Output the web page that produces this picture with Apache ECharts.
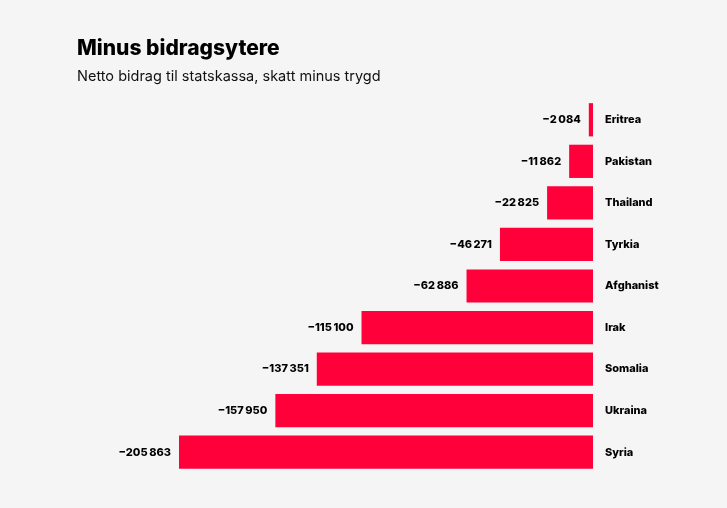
<!DOCTYPE html>
<html>
  <head>
    <meta charset="utf-8" />
    <title>Minus bidragsytere</title>
    <script src="https://cdn.jsdelivr.net/npm/echarts@6/dist/echarts.min.js"></script>
    <style>
      html, body { margin: 0; padding: 0; background: #f5f5f5; }
      #chart { width: 727px; height: 508px; }
    </style>
  </head>
  <body>
    <div id="chart"></div>
    <script type="text/javascript">
      // data
      var countries = ['Eritrea', 'Pakistan', 'Thailand', 'Tyrkia', 'Afghanist', 'Irak', 'Somalia', 'Ukraina', 'Syria'];
      var netto = [-2084, -11862, -22825, -46271, -62886, -115100, -137351, -157950, -205863];

      // −2 084 style: real minus sign, space as thousands separator
      function fmt(v) {
        var s = String(Math.abs(v)).replace(/\B(?=(\d{3})+(?!\d))/g, '\u2009');
        return (v < 0 ? '\u2212' : '') + s;
      }

      var chart = echarts.init(document.getElementById('chart'));
      chart.setOption({
        backgroundColor: '#f5f5f5',
        animation: false,
        title: {
          text: 'Minus bidragsytere',
          subtext: 'Netto bidrag til statskassa, skatt minus trygd',
          left: 72,
          top: 33,
          itemGap: 10,
          textStyle: { fontFamily: 'Inter', fontWeight: 800, fontSize: 21, color: '#000' },
          subtextStyle: { fontFamily: 'Inter', fontSize: 14.5, color: '#111' }
        },
        grid: { left: 179, right: 134, top: 99, height: 374, containLabel: false },
        xAxis: {
          type: 'value',
          min: -205863,
          max: 0,
          show: false
        },
        yAxis: {
          type: 'category',
          data: countries,
          inverse: true,
          position: 'right',
          axisLine: { show: false },
          axisTick: { show: false },
          axisLabel: {
            margin: 12,
            align: 'left',
            fontFamily: 'Inter',
            fontWeight: 800,
            fontSize: 11,
            color: '#000'
          }
        },
        series: [{
          type: 'bar',
          data: netto,
          barCategoryGap: '20%',
          itemStyle: { color: '#ff003b' },
          label: {
            show: true,
            position: 'left',
            distance: 8,
            formatter: function (p) { return fmt(p.value); },
            fontFamily: 'Inter',
            fontWeight: 800,
            fontSize: 11,
            color: '#000'
          }
        }]
      });
    </script>
  </body>
</html>
